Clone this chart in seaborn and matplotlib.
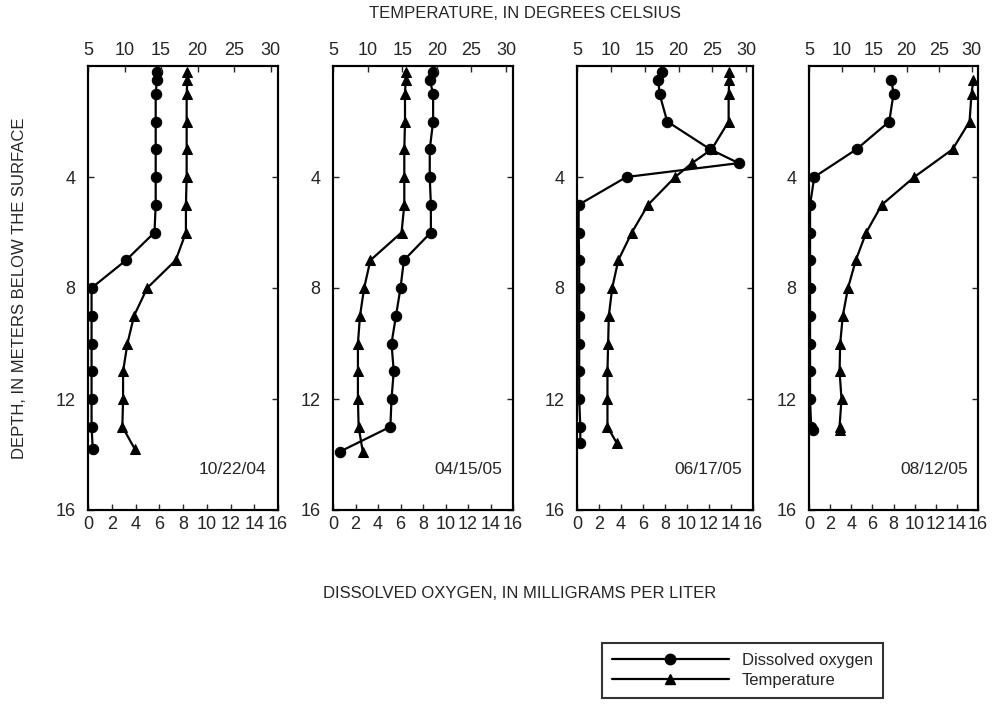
import numpy as np
import pandas as pd
import matplotlib.pyplot as plt
import seaborn as sns
from matplotlib.lines import Line2D

sns.set_style("ticks")
plt.rcParams['font.family'] = ['Liberation Sans', 'DejaVu Sans']

# sampling dates (one panel each)
dates = ['10/22/04', '04/15/05', '06/17/05', '08/12/05']

# depth (m) of each reading, per panel
depth_1 = [0.2, 0.5, 1, 2, 3, 4, 5, 6, 7, 8, 9, 10, 11, 12, 13, 13.8]
depth_2 = [0.2, 0.5, 1, 2, 3, 4, 5, 6, 7, 8, 9, 10, 11, 12, 13, 13.9]
depth_3 = [0.2, 0.5, 1, 2, 3, 3.5, 4, 5, 6, 7, 8, 9, 10, 11, 12, 13, 13.6]
depth_4 = [0.5, 1, 2, 3, 4, 5, 6, 7, 8, 9, 10, 11, 12, 13, 13.1]

# dissolved oxygen (mg/L)
do_1 = [5.8, 5.8, 5.7, 5.7, 5.7, 5.7, 5.7, 5.6, 3.2, 0.3, 0.3, 0.3, 0.3, 0.3, 0.3, 0.4]
do_2 = [8.9, 8.6, 8.9, 8.9, 8.6, 8.6, 8.7, 8.7, 6.3, 6.0, 5.6, 5.2, 5.4, 5.2, 5.1, 0.6]
do_3 = [7.7, 7.4, 7.5, 8.2, 12.1, 14.7, 4.5, 0.15, 0.15, 0.2, 0.2, 0.2, 0.2, 0.2, 0.2, 0.3, 0.3]
do_4 = [7.8, 8.0, 7.6, 4.5, 0.5, 0.1, 0.1, 0.1, 0.1, 0.1, 0.1, 0.1, 0.1, 0.2, 0.4]

# water temperature (deg C)
temp_1 = [18.6, 18.6, 18.5, 18.5, 18.5, 18.5, 18.4, 18.4, 17.0, 13.1, 11.3, 10.4, 9.8, 9.8, 9.7, 11.4]
temp_2 = [15.5, 15.5, 15.4, 15.4, 15.3, 15.3, 15.3, 14.9, 10.4, 9.5, 8.9, 8.6, 8.6, 8.6, 8.7, 9.3]
temp_3 = [27.5, 27.5, 27.4, 27.4, 24.9, 22.0, 19.5, 15.5, 13.1, 11.1, 10.2, 9.7, 9.6, 9.5, 9.5, 9.5, 10.9]
temp_4 = [30.3, 30.0, 29.7, 27.1, 21.2, 16.2, 13.8, 12.2, 11.0, 10.2, 9.8, 9.7, 10.0, 9.7, 9.7]

depths = [depth_1, depth_2, depth_3, depth_4]
dos = [do_1, do_2, do_3, do_4]
temps = [temp_1, temp_2, temp_3, temp_4]

W, H = 992, 708
fig = plt.figure(figsize=(W / 100, H / 100), dpi=100)

# panel edges in pixels (left, right)
edges = [(88, 278), (333, 513), (577, 753), (809, 978)]
top_px, bot_px = 66, 510
tick_fs = 13

for i, (l, r) in enumerate(edges):
    ax = fig.add_axes([l / W, 1 - bot_px / H, (r - l) / W, (bot_px - top_px) / H])
    df = pd.DataFrame({'depth': depths[i], 'do': dos[i], 'temp': temps[i]})

    sns.lineplot(data=df, x='do', y='depth', sort=False, estimator=None, ax=ax,
                 color='black', lw=1.6, marker='o', markersize=7.5,
                 markeredgecolor='black', markerfacecolor='black')
    ax.set_xlim(0, 16)
    ax.set_ylim(16, 0)
    ax.set_xticks(np.arange(0, 17, 2))
    ax.set_yticks([4, 8, 12, 16])
    ax.set_xlabel('')
    ax.set_ylabel('')
    ax.tick_params(axis='x', direction='in', length=4, width=1, labelsize=tick_fs, pad=4)
    ax.tick_params(axis='y', direction='in', length=4, width=1, labelsize=tick_fs,
                   right=True, pad=9)

    ax2 = ax.twiny()
    sns.lineplot(data=df, x='temp', y='depth', sort=False, estimator=None, ax=ax2,
                 color='black', lw=1.6, marker='^', markersize=7.5,
                 markeredgecolor='black', markerfacecolor='black')
    ax2.set_xlim(5, 31)
    ax2.set_ylim(16, 0)
    ax2.set_xticks(np.arange(5, 31, 5))
    ax2.set_xlabel('')
    ax2.set_ylabel('')
    ax2.tick_params(axis='x', direction='in', length=4, width=1, labelsize=tick_fs, pad=5)

    for a in (ax, ax2):
        for s in a.spines.values():
            s.set_linewidth(1.5)
            s.set_color('black')

    ax.text(0.94, 0.075, dates[i], transform=ax.transAxes, ha='right', va='bottom',
            fontsize=12.5)

fig.text(525 / W, 1 - 14 / H, 'TEMPERATURE, IN DEGREES CELSIUS', ha='center', va='center',
         fontsize=12)
fig.text(20 / W, 1 - 288 / H, 'DEPTH, IN METERS BELOW THE SURFACE', ha='center',
         va='center', rotation=90, fontsize=12)
fig.text(520 / W, 1 - 593 / H, 'DISSOLVED OXYGEN, IN MILLIGRAMS PER LITER', ha='center',
         va='center', fontsize=12)

handles = [
    Line2D([], [], color='black', lw=1.6, marker='o', markersize=7.5),
    Line2D([], [], color='black', lw=1.6, marker='^', markersize=7.5),
]
leg = fig.legend(handles, ['Dissolved oxygen', 'Temperature'], loc='upper right',
                 bbox_to_anchor=(883 / W, 1 - 643 / H), fontsize=12, frameon=True,
                 fancybox=False, handlelength=7, borderpad=0.6, labelspacing=0.3,
                 handletextpad=0.8, borderaxespad=0)
leg.get_frame().set_edgecolor('black')
leg.get_frame().set_linewidth(1.5)

fig.savefig('out.png', dpi=100)
